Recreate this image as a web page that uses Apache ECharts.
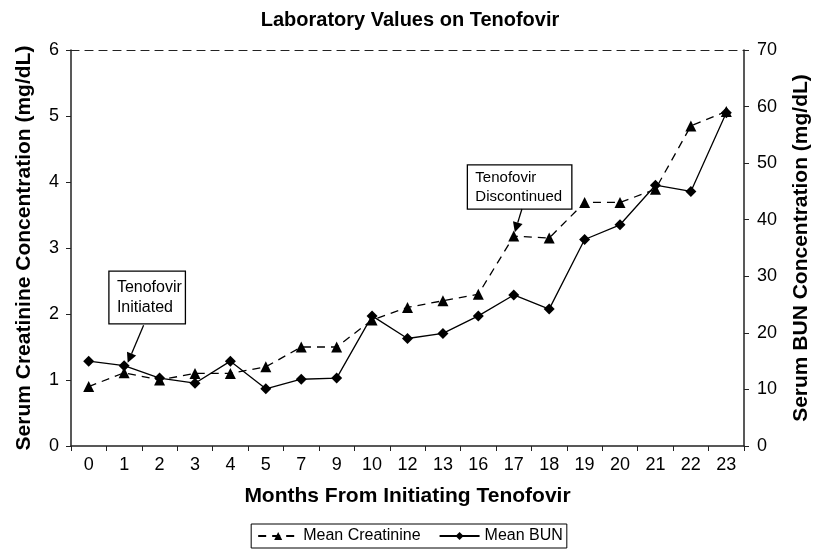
<!DOCTYPE html>
<html><head><meta charset="utf-8">
<script src="https://cdn.jsdelivr.net/npm/echarts@6/dist/echarts.min.js"></script>
<style>html,body{margin:0;padding:0;background:#fff}#c{width:820px;height:550px}</style>
</head><body><div id="c"></div>
<script>
var months = ['0','1','2','3','4','5','7','9','10','12','13','16','17','18','19','20','21','22','23'];
var creatinine = [0.90,1.11,1.00,1.10,1.10,1.20,1.50,1.50,1.91,2.10,2.20,2.30,3.18,3.15,3.69,3.69,3.89,4.85,5.07];
var bun = [15.0,14.2,12.0,11.1,15.0,10.1,11.8,12.0,23.0,19.0,19.9,23.0,26.7,24.2,36.5,39.1,46.1,45.0,58.9];
var creatTicks = [0,6,1];
var bunTicks = [0,70,10];
var F = 'Liberation Sans, Arial, sans-serif';
var chart = echarts.init(document.getElementById('c'));
chart.setOption({
  animation:false,
  backgroundColor:'#fff',
  title:{text:'Laboratory Values on Tenofovir',left:'center',top:5,textStyle:{fontFamily:F,fontSize:20,fontWeight:'bold',color:'#000'}},
  grid:{left:71,right:73,top:50,bottom:104},
  legend:{bottom:2,left:'center',itemGap:18,itemWidth:40,itemHeight:10,borderColor:'#000',borderWidth:1,borderRadius:0,padding:[4,4,4,6],
    textStyle:{fontFamily:F,fontSize:16,color:'#000'},data:['Mean Creatinine','Mean BUN']},
  xAxis:[{type:'category',data:months,boundaryGap:true,
    axisLine:{lineStyle:{color:'#222',width:1.5}},
    axisTick:{show:true,inside:false,length:5,lineStyle:{color:'#222'}},
    axisLabel:{fontFamily:F,fontSize:18,color:'#000',margin:10},
    name:'Months From Initiating Tenofovir',nameLocation:'middle',nameGap:40,
    nameTextStyle:{fontFamily:F,fontSize:21,fontWeight:'bold',color:'#000'}},
   {type:'category',data:months,position:'top',axisLine:{show:true,onZero:false,lineStyle:{color:'#222',type:[8,6],width:1.2}},axisTick:{show:false},axisLabel:{show:false}}],
  yAxis:[{type:'value',min:creatTicks[0],max:creatTicks[1],interval:creatTicks[2],
    axisLine:{show:true,lineStyle:{color:'#222',width:1.5}},axisTick:{show:true,length:5,lineStyle:{color:'#222'}},
    splitLine:{show:false},axisLabel:{fontFamily:F,fontSize:18,color:'#000',margin:12},
    name:'Serum Creatinine Concentration (mg/dL)',nameLocation:'middle',nameGap:36,nameRotate:90,
    nameTextStyle:{fontFamily:F,fontSize:21,fontWeight:'bold',color:'#000'}},
   {type:'value',min:bunTicks[0],max:bunTicks[1],interval:bunTicks[2],position:'right',
    axisLine:{show:true,lineStyle:{color:'#222',width:1.5}},axisTick:{show:true,length:5,lineStyle:{color:'#222'}},
    splitLine:{show:false},axisLabel:{fontFamily:F,fontSize:18,color:'#000',margin:13},
    name:'Serum BUN Concentration (mg/dL)',nameLocation:'middle',nameGap:47,nameRotate:90,
    nameTextStyle:{fontFamily:F,fontSize:21,fontWeight:'bold',color:'#000'}}],
  series:[
   {name:'Mean Creatinine',type:'line',data:creatinine,yAxisIndex:0,symbol:'triangle',symbolSize:11,
    lineStyle:{color:'#000',width:1.3,type:[8,6]},itemStyle:{color:'#000'},z:3},
   {name:'Mean BUN',type:'line',data:bun,yAxisIndex:1,symbol:'diamond',symbolSize:11,
    lineStyle:{color:'#000',width:1.3,type:'solid'},itemStyle:{color:'#000'},z:4}
  ]
});
function px(i,v){
  var f=Math.floor(i), t=i-f;
  var a=chart.convertToPixel({xAxisIndex:0,yAxisIndex:0},[f,v]);
  var b=chart.convertToPixel({xAxisIndex:0,yAxisIndex:0},[f+1,v]);
  return [a[0]+(b[0]-a[0])*t, a[1]];
}
function box(i0,v0,i1,v1,text,fs){
  var p0=px(i0,v0), p1=px(i1,v1);
  return [{type:'rect',shape:{x:p0[0],y:p0[1],width:p1[0]-p0[0],height:p1[1]-p0[1]},style:{fill:'#fff',stroke:'#000',lineWidth:1.3},z:10},
    {type:'text',x:p0[0]+8,y:(p0[1]+p1[1])/2,style:{text:text,font:fs+'px '+F,fill:'#000',textVerticalAlign:'middle',lineHeight:fs+4},z:11}];
}
function arrow(i0,v0,i1,v1){
  var a=px(i0,v0), b=px(i1,v1);
  var dx=b[0]-a[0], dy=b[1]-a[1], L=Math.sqrt(dx*dx+dy*dy), ux=dx/L, uy=dy/L;
  var h=10, w=5;
  var base=[b[0]-ux*h,b[1]-uy*h];
  return [{type:'polyline',shape:{points:[a,base]},style:{stroke:'#000',lineWidth:1.3},z:10},
    {type:'polygon',shape:{points:[b,[base[0]-uy*w,base[1]+ux*w],[base[0]+uy*w,base[1]-ux*w]]},style:{fill:'#000'},z:10}];
}
var g=[].concat(
  box(0.57,2.65,2.73,1.85,'Tenofovir\nInitiated',16),
  arrow(1.55,1.83,1.10,1.26),
  box(10.69,4.26,13.64,3.59,'Tenofovir\nDiscontinued',15),
  arrow(12.23,3.59,12.03,3.24)
);
chart.setOption({graphic:g});
</script></body></html>
